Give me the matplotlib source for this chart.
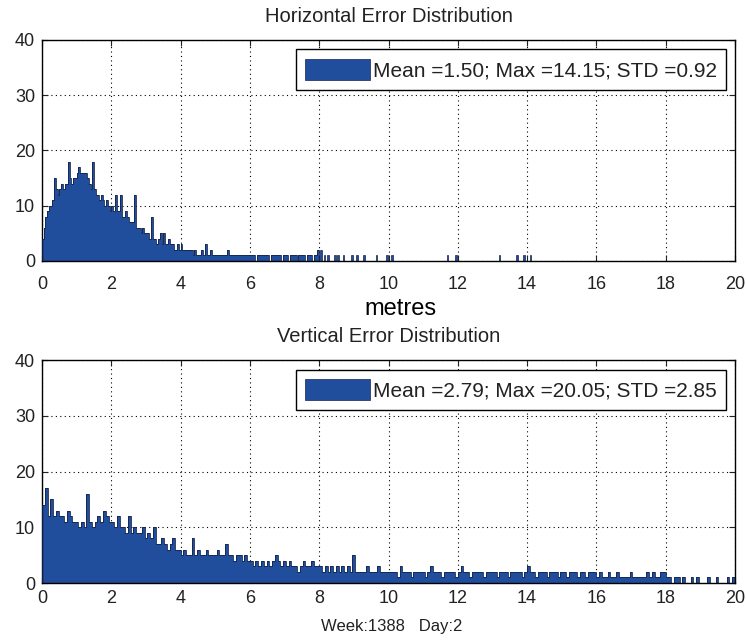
import numpy as np
import matplotlib
matplotlib.use("Agg")
import matplotlib.pyplot as plt
from matplotlib.patches import Patch

plt.rcParams['font.family'] = ['Liberation Sans', 'DejaVu Sans']

# horizontal error histogram, 0.05 m bins from 0 to 8 m
h_bin = 0.05
h_counts = [
    4, 6, 8, 9, 10, 10, 11, 15, 13, 12, 13, 14, 13, 14, 14, 18, 15, 14, 15, 15,
    16, 17, 16, 16, 16, 16, 15, 14, 13, 18, 13, 12, 12, 11, 12, 11, 10, 11, 10, 9,
    10, 9, 12, 9, 9, 12, 8, 8, 9, 8, 7, 7, 7, 12, 6, 6, 6, 5, 6, 5,
    5, 5, 4, 8, 4, 4, 3, 4, 5, 3, 5, 3, 3, 4, 3, 3, 2, 2, 3, 2,
    3, 2, 2, 2, 2, 2, 2, 1, 2, 1, 1, 1, 2, 1, 3, 1, 1, 2, 1, 1,
    1, 1, 1, 1, 1, 1, 1, 2, 1, 1, 1, 1, 1, 1, 1, 1, 1, 1, 1, 1,
    1, 1, 1, 0, 1, 1, 1, 1, 1, 1, 1, 0, 1, 1, 1, 1, 1, 1, 0, 1,
    1, 1, 0, 1, 1, 1, 1, 0, 1, 1, 1, 1, 0, 1, 1, 1, 0, 1, 1, 2,
]
# sparse tail beyond 8 m (bin centres, counts)
h_tail_x = [8.05, 8.15, 8.25, 8.45, 8.55, 8.7, 8.95, 9.1, 9.3, 9.65, 9.95,
            10.1, 11.7, 11.95, 13.2, 13.7, 13.9, 14.1]
h_tail_n = [2, 1, 1, 1, 1, 1, 1, 1, 1, 1, 1, 1, 1, 1, 1, 1, 1, 1]

# vertical error histogram, 0.08 m bins from 0 to 20 m
v_bin = 0.08
v_counts = [
    14, 17, 12, 15, 12, 13, 12, 12, 11, 13, 12, 11, 11, 10, 11, 10, 16, 11, 10, 11, 12, 11, 13, 12, 11,
    11, 10, 12, 10, 10, 9, 12, 9, 10, 9, 9, 10, 8, 9, 8, 10, 7, 7, 8, 7, 6, 7, 8, 6, 6,
    5, 6, 5, 5, 8, 5, 6, 5, 5, 6, 5, 5, 5, 6, 5, 5, 7, 5, 5, 4, 5, 5, 4, 5, 4,
    4, 3, 4, 3, 4, 3, 4, 3, 4, 5, 4, 3, 4, 3, 4, 3, 3, 2, 3, 4, 3, 3, 4, 3, 3,
    3, 2, 3, 2, 3, 2, 3, 2, 3, 2, 3, 2, 5, 2, 2, 2, 2, 3, 2, 2, 2, 3, 2, 2, 2,
    2, 2, 2, 1, 3, 2, 2, 2, 1, 2, 2, 2, 2, 1, 2, 3, 2, 2, 2, 1, 2, 2, 2, 2, 1,
    2, 3, 2, 2, 1, 2, 2, 2, 2, 1, 2, 2, 2, 2, 1, 2, 2, 2, 1, 2, 2, 2, 2, 1, 2,
    3, 2, 2, 1, 2, 2, 2, 1, 2, 2, 2, 1, 2, 2, 1, 2, 2, 2, 1, 2, 2, 1, 2, 2, 2,
    1, 2, 1, 1, 2, 1, 1, 2, 1, 1, 1, 1, 2, 1, 1, 1, 1, 1, 2, 1, 2, 1, 1, 2, 2,
    1, 1, 0, 1, 1, 0, 1, 0, 0, 1, 0, 1, 0, 0, 0, 1, 0, 0, 1, 0, 0, 0, 1, 0, 1,
]

titles = ["Horizontal Error Distribution", "Vertical Error Distribution"]
legend_texts = ["Mean =1.50; Max =14.15; STD =0.92",
                "Mean =2.79; Max =20.05; STD =2.85"]

bar_color = '#214e9c'
edge_color = '#14244e'

fig = plt.figure(figsize=(7.46, 6.43), dpi=100)
ax1 = fig.add_axes([0.0563, 0.5941, 0.9290, 0.3437])
ax2 = fig.add_axes([0.0563, 0.0933, 0.9290, 0.3468])


def draw_hist(ax, counts, bw):
    counts = np.asarray(counts, dtype=float)
    edges = np.arange(len(counts) + 1) * bw
    ax.bar(edges[:-1], counts, width=bw, align='edge', color=bar_color,
           linewidth=0, zorder=2)
    ax.stairs(counts, edges, color=edge_color, linewidth=0.6, zorder=3)


draw_hist(ax1, h_counts, h_bin)
ax1.bar(h_tail_x, h_tail_n, width=h_bin, color=bar_color,
        edgecolor=edge_color, linewidth=0.5, zorder=2)
draw_hist(ax2, v_counts, v_bin)

for ax, title, lab, xpad in zip([ax1, ax2], titles, legend_texts, [11, 5]):
    ax.set_xlim(0, 20)
    ax.set_ylim(0, 40)
    ax.set_xticks(np.arange(0, 21, 2))
    ax.set_yticks(np.arange(0, 41, 10))
    ax.tick_params(direction='in', top=True, right=True, length=4,
                   width=0.8, labelsize=13, pad=5, colors='#222222')
    ax.tick_params(axis='x', pad=xpad)
    ax.grid(True, linestyle=(0, (1, 3)), color='k', linewidth=0.8)
    ax.set_axisbelow(True)
    for sp in ax.spines.values():
        sp.set_linewidth(1.0)
    ax.set_title(title, fontsize=14.5, color='#222222', pad=13)
    handle = Patch(facecolor=bar_color, edgecolor=edge_color, linewidth=0.5)
    leg = ax.legend([handle], [lab], loc='upper right',
                    bbox_to_anchor=(0.987, 0.957), borderaxespad=0,
                    fontsize=15, fancybox=False, framealpha=1,
                    edgecolor='k', handlelength=3.1, handleheight=1.2,
                    handletextpad=0.15, borderpad=0.45)
    leg.get_frame().set_linewidth(1.0)
    for t in leg.get_texts():
        t.set_color('#222222')

fig.text(400 / 746, 1 - 309 / 643, "metres", fontsize=17, ha='center',
         va='center', color='k')
fig.text(392 / 746, 1 - 626 / 643, "Week:1388   Day:2", fontsize=12,
         ha='center', va='center', color='#222222')

fig.savefig('out.png', dpi=100)
